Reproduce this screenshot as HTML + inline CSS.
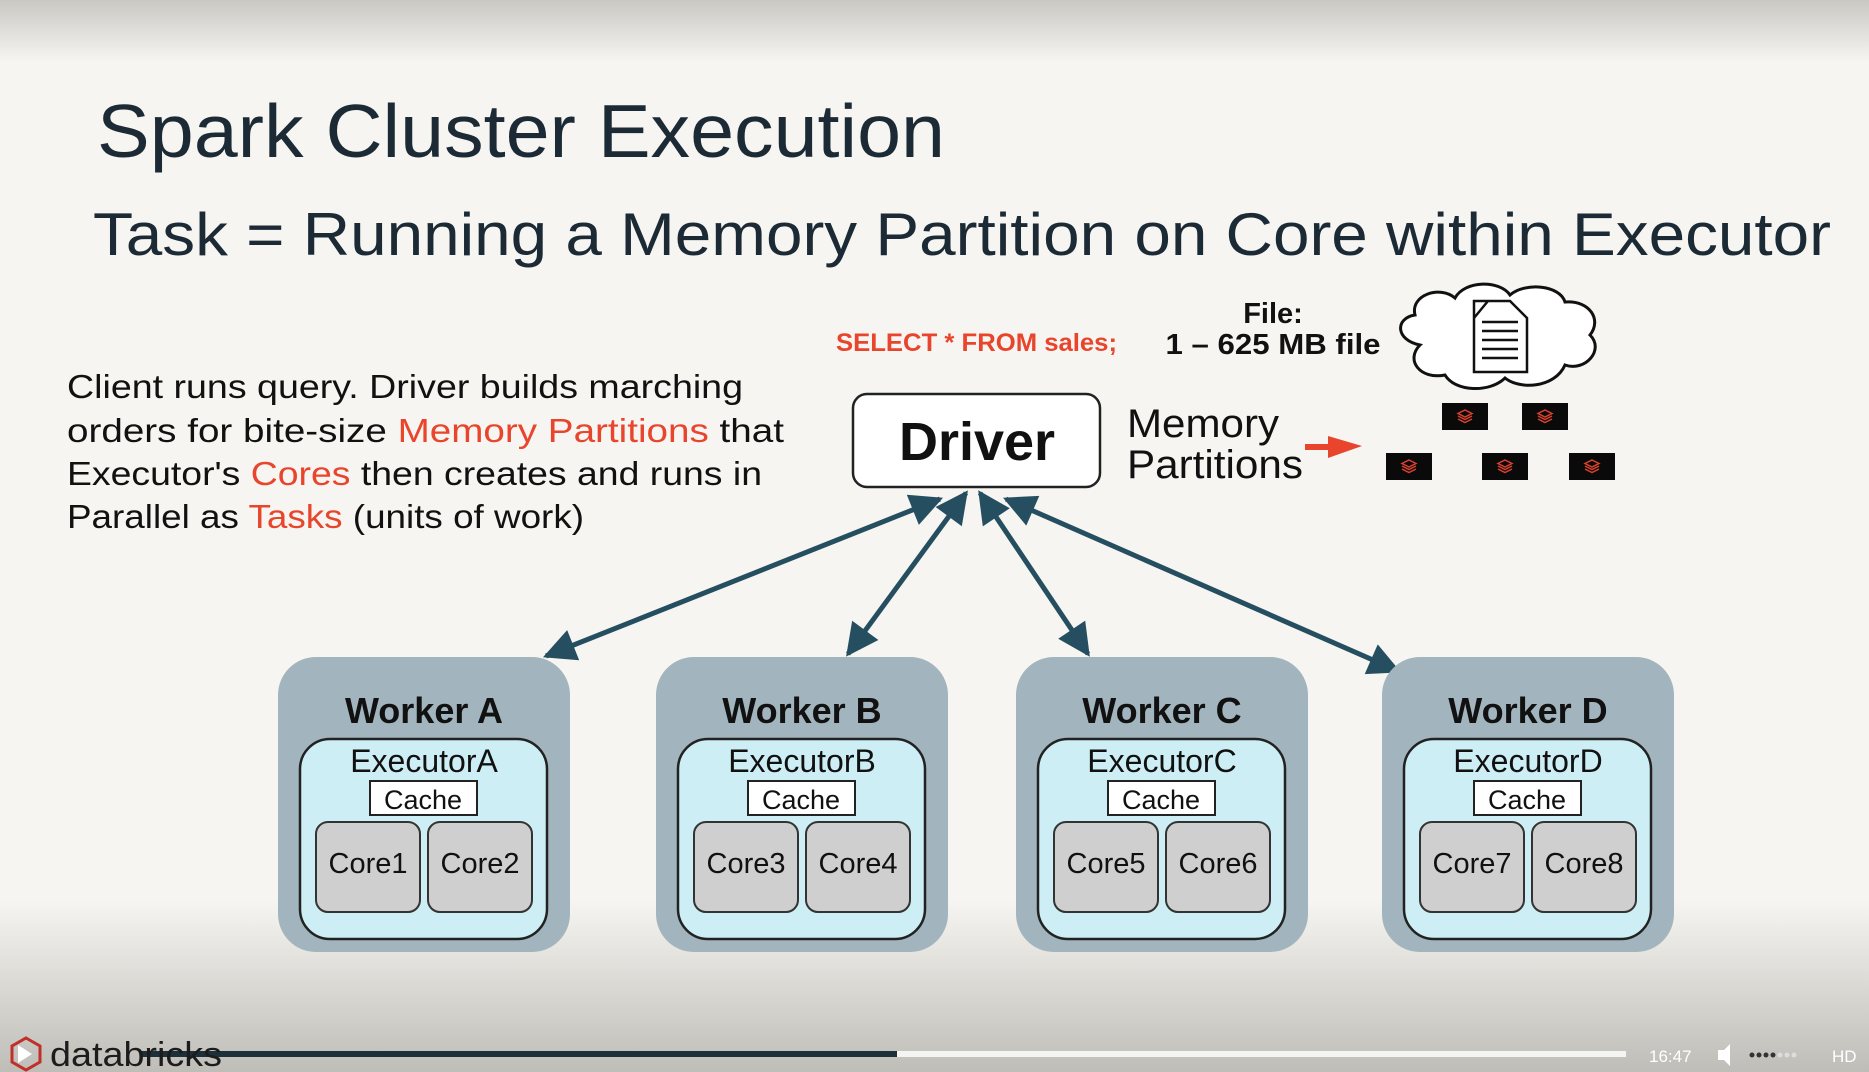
<!DOCTYPE html>
<html><head><meta charset="utf-8"><style>
html,body{margin:0;padding:0;width:1869px;height:1072px;overflow:hidden;background:#f6f5f1}
svg{display:block}
text{font-family:"Liberation Sans",sans-serif}
</style></head><body>
<svg width="1869" height="1072" viewBox="0 0 1869 1072" xmlns="http://www.w3.org/2000/svg">
<defs>
<linearGradient id="top" x1="0" y1="0" x2="0" y2="1"><stop offset="0" stop-color="#c9c8c3"/><stop offset="1" stop-color="#f6f5f1"/></linearGradient>
<linearGradient id="bot" x1="0" y1="0" x2="0" y2="1"><stop offset="0" stop-color="#f6f5f1"/><stop offset="1" stop-color="#bfbdb7"/></linearGradient>
<marker id="ah" viewBox="0 0 10 10" refX="9" refY="5" markerWidth="7" markerHeight="6.5" orient="auto-start-reverse" markerUnits="strokeWidth"><path d="M0,0 L10,5 L0,10 z" fill="#254f60"/></marker>
<g id="part"><rect x="0" y="0" width="46" height="27" fill="#0a0a0a"/><path d="M23,7 l7,3.5 -7,3.5 -7,-3.5z M16,13 l7,3.5 7,-3.5 M16,16 l7,3.5 7,-3.5" fill="none" stroke="#d9412e" stroke-width="1.5"/></g>
</defs>
<rect x="0" y="0" width="1869" height="62" fill="url(#top)"/>
<rect x="0" y="900" width="1869" height="172" fill="url(#bot)"/>

<text x="97" y="157" font-size="75" fill="#1b2a35" textLength="848" lengthAdjust="spacingAndGlyphs">Spark Cluster Execution</text>
<text x="93" y="255" font-size="60" fill="#1b2a35" textLength="1738" lengthAdjust="spacingAndGlyphs">Task = Running a Memory Partition on Core within Executor</text>

<g font-size="33" fill="#111">
<text x="67" y="398" textLength="676" lengthAdjust="spacingAndGlyphs">Client runs query. Driver builds marching</text>
<text x="67" y="442" textLength="717" lengthAdjust="spacingAndGlyphs">orders for bite-size <tspan fill="#e8452c">Memory Partitions</tspan> that</text>
<text x="67" y="485" textLength="695" lengthAdjust="spacingAndGlyphs">Executor's <tspan fill="#e8452c">Cores</tspan> then creates and runs in</text>
<text x="67" y="528" textLength="517" lengthAdjust="spacingAndGlyphs">Parallel as <tspan fill="#e8452c">Tasks</tspan> (units of work)</text>
</g>

<text x="836" y="351" font-size="25" font-weight="bold" fill="#e8452c" textLength="281" lengthAdjust="spacingAndGlyphs">SELECT * FROM sales;</text>
<text x="1273" y="323" font-size="29" font-weight="bold" fill="#111" text-anchor="middle">File:</text>
<text x="1273" y="354" font-size="29" font-weight="bold" fill="#111" text-anchor="middle" textLength="215" lengthAdjust="spacingAndGlyphs">1 – 625 MB file</text>

<path d="M1420,345 C1395,340 1395,318 1415,315 C1410,295 1440,285 1455,298 C1465,280 1500,280 1510,295 C1525,282 1560,285 1565,302 C1590,300 1602,320 1590,335 C1605,350 1585,372 1565,365 C1555,388 1520,390 1505,378 C1490,393 1455,392 1445,375 C1420,380 1405,360 1420,345 Z" fill="#fff" stroke="#111" stroke-width="3"/>
<path d="M1474,301 L1510,301 L1527,318 L1527,372 L1474,372 Z M1474,318 L1488,301" fill="#fff" stroke="#111" stroke-width="2.5"/>
<g stroke="#111" stroke-width="2.5"><line x1="1482" y1="322" x2="1518" y2="322"/><line x1="1482" y1="331" x2="1518" y2="331"/><line x1="1482" y1="340" x2="1518" y2="340"/><line x1="1482" y1="349" x2="1518" y2="349"/><line x1="1482" y1="358" x2="1518" y2="358"/></g>

<use href="#part" x="1442" y="403"/><use href="#part" x="1522" y="403"/>
<use href="#part" x="1386" y="453"/><use href="#part" x="1482" y="453"/><use href="#part" x="1569" y="453"/>

<rect x="853" y="394" width="247" height="93" rx="14" fill="#fff" stroke="#222" stroke-width="2.5"/>
<text x="977" y="460" font-size="54" font-weight="bold" fill="#111" text-anchor="middle">Driver</text>

<text x="1127" y="437" font-size="40" fill="#111" textLength="152" lengthAdjust="spacingAndGlyphs">Memory</text>
<text x="1127" y="478" font-size="40" fill="#111" textLength="176" lengthAdjust="spacingAndGlyphs">Partitions</text>
<path d="M1305,444 L1328,444 L1328,436 L1362,446 L1328,458 L1328,450 L1305,450 Z" fill="#e8452c"/>

<g stroke="#254f60" stroke-width="5" marker-start="url(#ah)" marker-end="url(#ah)">
<line x1="940" y1="499" x2="546" y2="656"/>
<line x1="966" y1="493" x2="848" y2="654"/>
<line x1="980" y1="493" x2="1088" y2="654"/>
<line x1="1006" y1="499" x2="1398" y2="671"/>
</g>

<g>
<rect x="278" y="657" width="292" height="295" rx="38" fill="#a2b4bd"/>
<text x="424" y="723" font-size="36" font-weight="bold" text-anchor="middle" fill="#111">Worker A</text>
<rect x="300" y="739" width="247" height="200" rx="30" fill="#cdeef5" stroke="#222" stroke-width="2.5"/>
<text x="424" y="772" font-size="32" text-anchor="middle" fill="#111">ExecutorA</text>
<rect x="370" y="781" width="107" height="34" fill="#fff" stroke="#222" stroke-width="2"/>
<text x="423" y="809" font-size="27" text-anchor="middle" fill="#111">Cache</text>
<rect x="316" y="822" width="104" height="90" rx="12" fill="#cfcfcf" stroke="#333" stroke-width="2"/>
<rect x="428" y="822" width="104" height="90" rx="12" fill="#cfcfcf" stroke="#333" stroke-width="2"/>
<text x="368" y="873" font-size="29" text-anchor="middle" fill="#111">Core1</text>
<text x="480" y="873" font-size="29" text-anchor="middle" fill="#111">Core2</text>
</g>
<g transform="translate(378,0)">
<rect x="278" y="657" width="292" height="295" rx="38" fill="#a2b4bd"/>
<text x="424" y="723" font-size="36" font-weight="bold" text-anchor="middle" fill="#111">Worker B</text>
<rect x="300" y="739" width="247" height="200" rx="30" fill="#cdeef5" stroke="#222" stroke-width="2.5"/>
<text x="424" y="772" font-size="32" text-anchor="middle" fill="#111">ExecutorB</text>
<rect x="370" y="781" width="107" height="34" fill="#fff" stroke="#222" stroke-width="2"/>
<text x="423" y="809" font-size="27" text-anchor="middle" fill="#111">Cache</text>
<rect x="316" y="822" width="104" height="90" rx="12" fill="#cfcfcf" stroke="#333" stroke-width="2"/>
<rect x="428" y="822" width="104" height="90" rx="12" fill="#cfcfcf" stroke="#333" stroke-width="2"/>
<text x="368" y="873" font-size="29" text-anchor="middle" fill="#111">Core3</text>
<text x="480" y="873" font-size="29" text-anchor="middle" fill="#111">Core4</text>
</g>
<g transform="translate(738,0)">
<rect x="278" y="657" width="292" height="295" rx="38" fill="#a2b4bd"/>
<text x="424" y="723" font-size="36" font-weight="bold" text-anchor="middle" fill="#111">Worker C</text>
<rect x="300" y="739" width="247" height="200" rx="30" fill="#cdeef5" stroke="#222" stroke-width="2.5"/>
<text x="424" y="772" font-size="32" text-anchor="middle" fill="#111">ExecutorC</text>
<rect x="370" y="781" width="107" height="34" fill="#fff" stroke="#222" stroke-width="2"/>
<text x="423" y="809" font-size="27" text-anchor="middle" fill="#111">Cache</text>
<rect x="316" y="822" width="104" height="90" rx="12" fill="#cfcfcf" stroke="#333" stroke-width="2"/>
<rect x="428" y="822" width="104" height="90" rx="12" fill="#cfcfcf" stroke="#333" stroke-width="2"/>
<text x="368" y="873" font-size="29" text-anchor="middle" fill="#111">Core5</text>
<text x="480" y="873" font-size="29" text-anchor="middle" fill="#111">Core6</text>
</g>
<g transform="translate(1104,0)">
<rect x="278" y="657" width="292" height="295" rx="38" fill="#a2b4bd"/>
<text x="424" y="723" font-size="36" font-weight="bold" text-anchor="middle" fill="#111">Worker D</text>
<rect x="300" y="739" width="247" height="200" rx="30" fill="#cdeef5" stroke="#222" stroke-width="2.5"/>
<text x="424" y="772" font-size="32" text-anchor="middle" fill="#111">ExecutorD</text>
<rect x="370" y="781" width="107" height="34" fill="#fff" stroke="#222" stroke-width="2"/>
<text x="423" y="809" font-size="27" text-anchor="middle" fill="#111">Cache</text>
<rect x="316" y="822" width="104" height="90" rx="12" fill="#cfcfcf" stroke="#333" stroke-width="2"/>
<rect x="428" y="822" width="104" height="90" rx="12" fill="#cfcfcf" stroke="#333" stroke-width="2"/>
<text x="368" y="873" font-size="29" text-anchor="middle" fill="#111">Core7</text>
<text x="480" y="873" font-size="29" text-anchor="middle" fill="#111">Core8</text>
</g>

<rect x="140" y="1051" width="757" height="6" fill="#1c303b"/>
<rect x="897" y="1051" width="729" height="6" fill="#f4f4f2"/>
<path d="M26,1038 L40,1046 L40,1062 L26,1070 L12,1062 L12,1046 Z" fill="none" stroke="#c0302a" stroke-width="3"/>
<path d="M18,1045 L32,1054 L18,1063 Z" fill="#fff"/>
<text x="50" y="1066" font-size="34" fill="#1c1c1c" textLength="172" lengthAdjust="spacingAndGlyphs">databricks</text>
<text x="1649" y="1062" font-size="17" fill="#fff">16:47</text>
<path d="M1718,1050 L1724,1050 L1730,1044 L1730,1066 L1724,1060 L1718,1060 Z" fill="#fff"/>
<g fill="#333"><circle cx="1752" cy="1055" r="2.5"/><circle cx="1759" cy="1055" r="2.5"/><circle cx="1766" cy="1055" r="2.5"/><circle cx="1773" cy="1055" r="2.5"/></g>
<g fill="#ddd"><circle cx="1780" cy="1055" r="2.5"/><circle cx="1787" cy="1055" r="2.5"/><circle cx="1794" cy="1055" r="2.5"/></g>
<text x="1832" y="1062" font-size="17" fill="#fff">HD</text>
</svg>
</body></html>
